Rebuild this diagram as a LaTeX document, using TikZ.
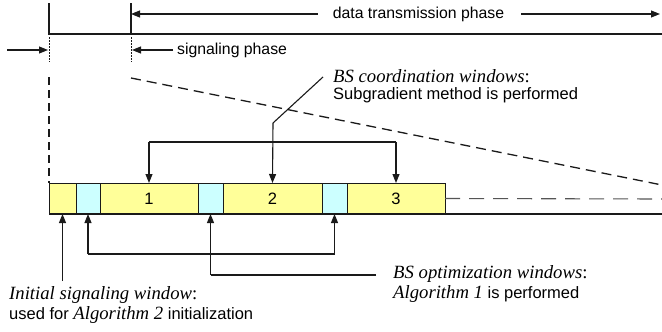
\documentclass[tikz,border=0pt]{standalone}
\usepackage{fontspec}
\setmainfont{Liberation Serif}
\setsansfont{Liberation Sans}
\usetikzlibrary{arrows.meta}
\definecolor{winyellow}{HTML}{FFFF99}
\definecolor{wincyan}{HTML}{CCFFFF}
\definecolor{ink}{HTML}{1A1A1A}
\definecolor{dashgray}{HTML}{555555}
\newcommand{\itx}[1]{{\rmfamily\itshape\fontsize{18.7}{18.7}\selectfont #1}}
\tikzset{
  ln/.style={draw=ink, line width=1.1pt},
  arr/.style={ln, -{Triangle[length=9pt,width=7pt]}},
  seg/.style={draw=ink, line width=1pt, minimum height=31pt, inner sep=0pt, outer sep=0pt, anchor=north west, font=\sffamily\fontsize{16.5}{16.5}\selectfont},
  ywin/.style={seg, fill=winyellow},
  cwin/.style={seg, fill=wincyan},
  sans/.style={font=\sffamily\fontsize{15.8}{15.8}\selectfont, inner sep=0pt, anchor=west},
  lbl/.style={font=\sffamily\fontsize{16.5}{16.5}\selectfont, inner sep=0pt, anchor=west},
  ital/.style={font=\rmfamily\fontsize{18.7}{18.7}\selectfont, inner sep=0pt, anchor=west},
}
\begin{document}
\begin{tikzpicture}[x=1pt,y=-1pt]
\useasboundingbox (0,0) rectangle (662,332);
\fill[white] (0,0) rectangle (662,332);

% frame window bar
\node[ywin, minimum width=27pt] (s0) at (49,183) {};
\node[cwin, minimum width=24pt] (w1) at (76,183) {};
\node[ywin, minimum width=98pt] (b1) at (100,183) {1};
\node[cwin, minimum width=25pt] (w2) at (198,183) {};
\node[ywin, minimum width=99pt] (b2) at (223,183) {2};
\node[cwin, minimum width=25pt] (w3) at (322,183) {};
\node[ywin, minimum width=98pt] (b3) at (347,183) {3};

% baseline and continuation
\coordinate (bend) at (662,214);
\coordinate (dend) at (662,199);
\draw[ln] (s0.south west) -- (bend);
\draw[draw=dashgray, line width=1.1pt, dash pattern=on 15pt off 9pt] (b3.east) -- (dend);

% phase markers at the top
\coordinate (t1) at (49,3);
\coordinate (t2) at (131,3);
\coordinate (h1) at (49,34);
\coordinate (h2) at (131,34);
\coordinate (hr) at (662,34);
\draw[ln] (t1) -- (h1) -- (hr);
\draw[ln] (t2) -- (h2);

\node[sans, anchor=center] (dtp) at (418.5,14) {data transmission phase};
\coordinate (dl) at (131,14);
\coordinate (dr) at (660,14);
\draw[arr] ([xshift=-15pt]dtp.west) -- (dl);
\draw[arr] ([xshift=17pt]dtp.east) -- (dr);

% signaling phase
\coordinate (d1a) at (49,37);
\coordinate (d1b) at (49,62);
\coordinate (d2a) at (131,37);
\coordinate (d2b) at (131,62);
\draw[ink, line width=1pt, dash pattern=on 1.5pt off 1.5pt] (d1a) -- (d1b);
\draw[ink, line width=1pt, dash pattern=on 1.5pt off 1.5pt] (d2a) -- (d2b);
\coordinate (la) at (7,50);
\coordinate (lb) at (48,50);
\draw[arr] (la) -- (lb);
\node[sans] (sph) at (177,50) {signaling phase};
\coordinate (sb) at (132,50);
\draw[arr] ([xshift=-4pt]sph.west) -- (sb);

% zoom guides
\coordinate (zv) at (49,77);
\draw[ln, dash pattern=on 8pt off 5pt] (zv) -- (s0.north west);
\coordinate (za) at (131,78);
\coordinate (zb) at (662,185);
\draw[ln, line width=1.3pt, dash pattern=on 10pt off 6pt] (za) -- (zb);

% coordination windows
\node[ital] (cw) at (333,76.5) {\itshape BS coordination windows\upshape:};
\node[lbl] (cw2) at (333,95) {Subgradient method is performed};
\coordinate (ct) at (323,77);
\coordinate (cj) at (273,123);
\coordinate (cb) at (0,142);
\draw[ln] (ct) -- (cj);
\draw[arr] (cj) -- (b2.north);
\draw[ln] (b1.north |- cb) -- (b3.north |- cb);
\draw[arr] (b1.north |- cb) -- (b1.north);
\draw[arr] (b3.north |- cb) -- (b3.north);

% optimization windows
\coordinate (ob) at (0,254);
\coordinate (os) at (0,275);
\coordinate (oe) at (376,275);
\draw[ln] (w1.south |- ob) -- (w3.south |- ob);
\draw[arr] (w1.south |- ob) -- (w1.south);
\draw[arr] (w3.south |- ob) -- (w3.south);
\draw[ln] (oe) -- (w2.south |- os);
\draw[arr] (w2.south |- os) -- (w2.south);
\node[ital] (ow) at (393,274.5) {\itshape BS optimization windows\upshape:};
\node[lbl] (ow2) at (393,294.5) {\itx{Algorithm 1} is performed};

% initial signaling window
\coordinate (ib) at (0,281);
\draw[arr] (s0.south |- ib) -- (s0.south);
\node[ital] (iw) at (9,295.5) {\itshape Initial signaling window\upshape:};
\node[lbl] (iw2) at (9,315.5) {used for \itx{Algorithm 2} initialization};
\end{tikzpicture}
\end{document}
